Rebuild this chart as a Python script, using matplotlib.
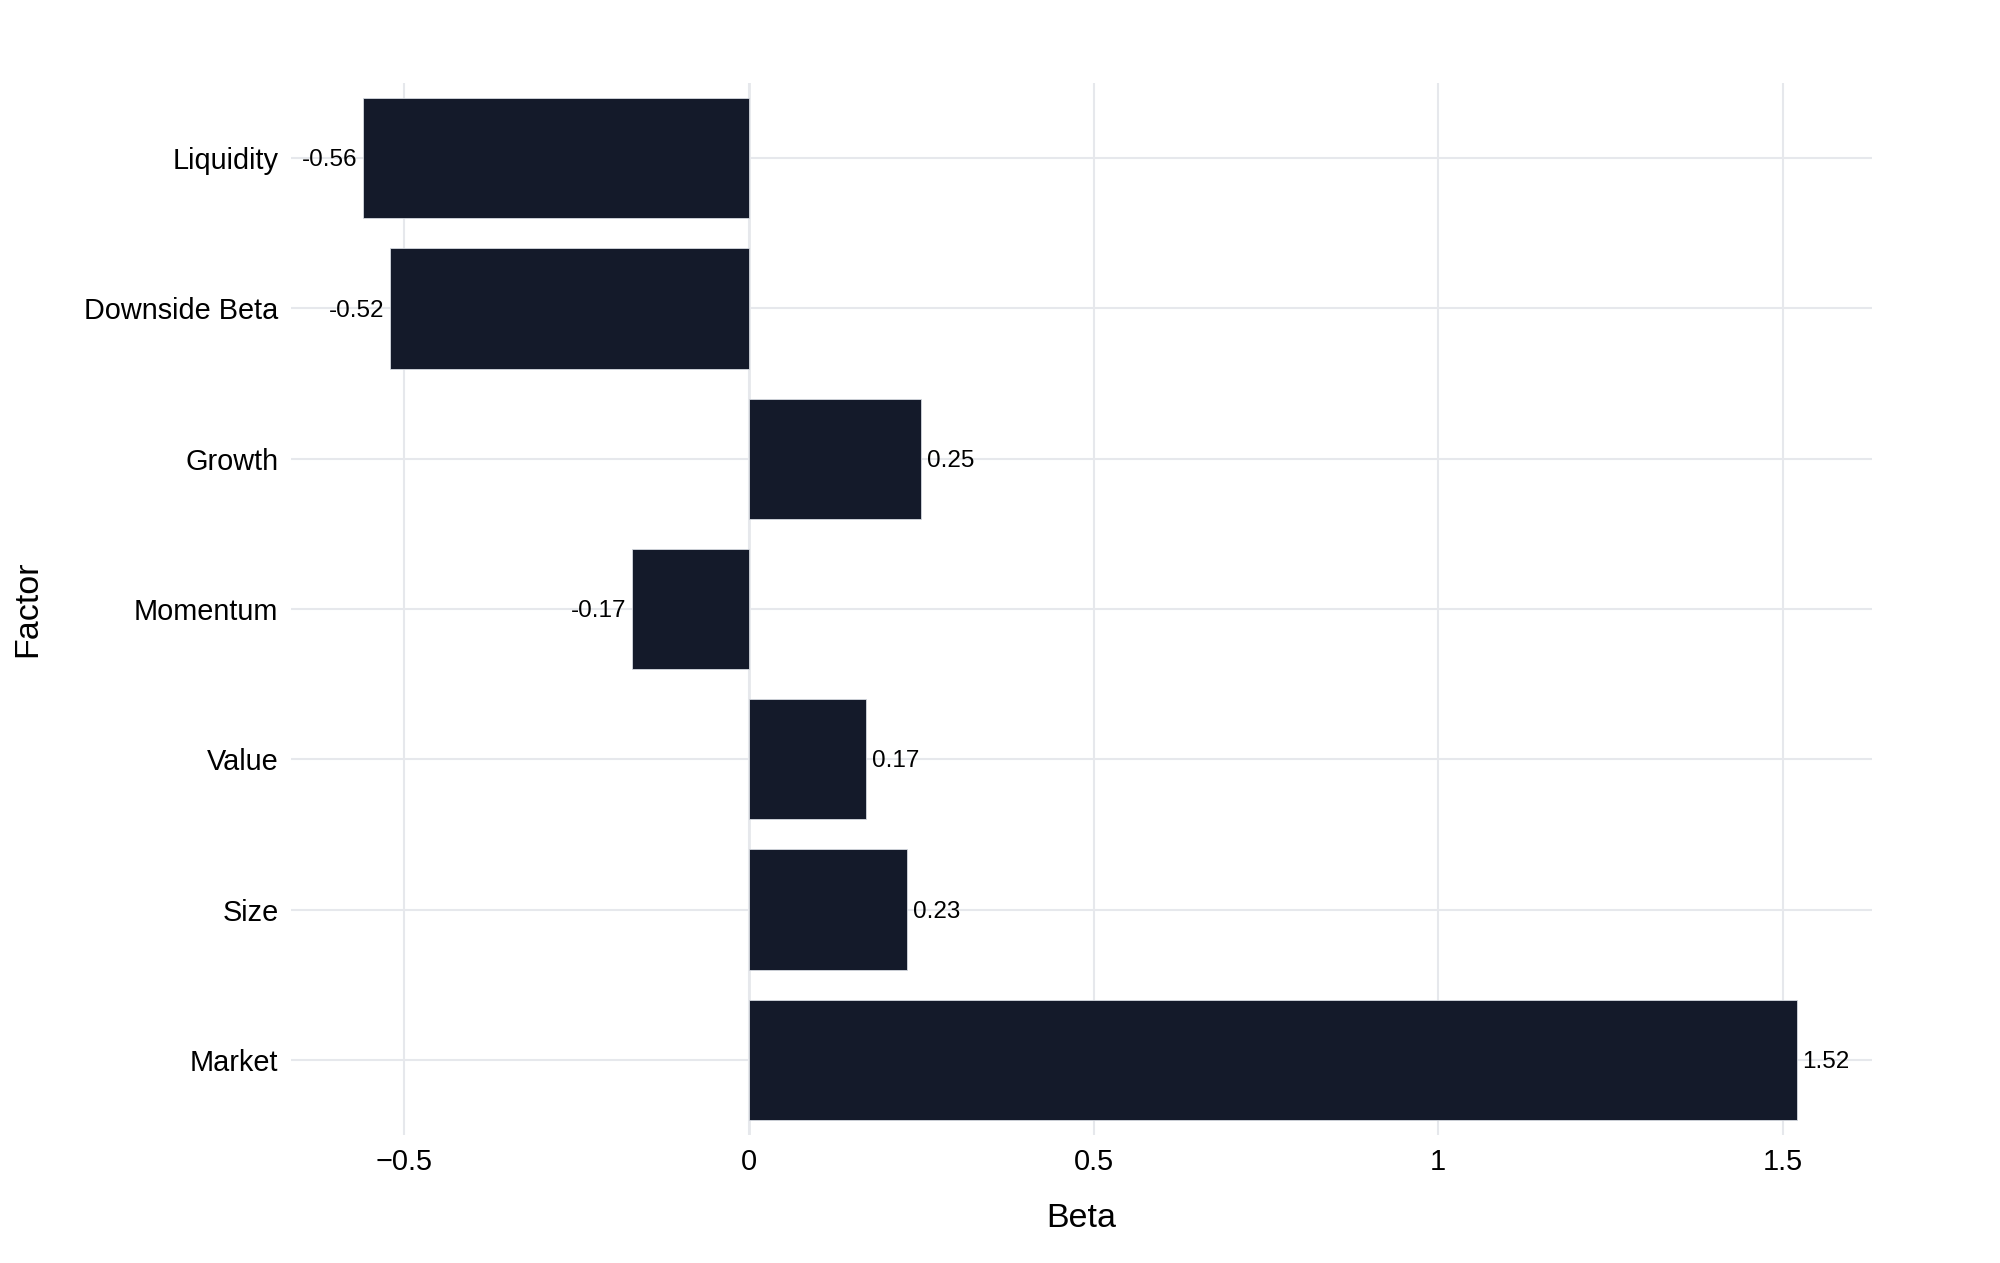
import matplotlib.pyplot as plt

# factor exposures (bottom to top)
factors = ["Market", "Size", "Value", "Momentum", "Growth", "Downside Beta", "Liquidity"]
betas = [1.52, 0.23, 0.17, -0.17, 0.25, -0.52, -0.56]
xticks = [-0.5, 0, 0.5, 1, 1.5]
xtick_labels = ["\u22120.5", "0", "0.5", "1", "1.5"]

plt.rcParams['font.family'] = ['Liberation Sans', 'DejaVu Sans']

bar_color = "#141A2A"
grid_color = "#E6E8EC"


def main():
    fig = plt.figure(figsize=(20, 12.63), dpi=100)
    ax = fig.add_axes([0.1455, 0.1013, 0.7905, 0.833])

    y = list(range(len(factors)))
    ax.barh(y, betas, height=0.8, color=bar_color, edgecolor="#D5D9E0",
            linewidth=0.6, zorder=3)

    # value labels outside the bars
    for yi, b in zip(y, betas):
        if b >= 0:
            ax.annotate(f"{b:.2f}", (b, yi), xytext=(4, -1.5), textcoords="offset points",
                        ha="left", va="center", fontsize=17.5, color="black")
        else:
            ax.annotate(f"{b:.2f}", (b, yi), xytext=(-4, -1.5), textcoords="offset points",
                        ha="right", va="center", fontsize=17.5, color="black")

    ax.set_xlim(-0.664, 1.629)
    ax.set_ylim(-0.5, len(factors) - 0.5)
    ax.set_yticks(y)
    ax.set_yticklabels(factors)
    ax.set_xticks(xticks)
    ax.set_xticklabels(xtick_labels)

    ax.tick_params(axis="both", length=0, labelsize=20.8)
    ax.tick_params(axis="x", pad=9)
    ax.tick_params(axis="y", pad=9)

    ax.grid(True, color=grid_color, linewidth=1.5, zorder=0)
    ax.set_axisbelow(True)
    ax.axvline(0, color=grid_color, linewidth=2, zorder=1)
    for s in ax.spines.values():
        s.set_visible(False)

    fig.text(0.5405, 0.0356, "Beta", ha="center", va="center", fontsize=24.5)
    fig.text(0.014, 0.518, "Factor", ha="center", va="center", rotation=90, fontsize=24.5)

    fig.savefig("out.png", dpi=100, facecolor="white")


if __name__ == "__main__":
    main()
